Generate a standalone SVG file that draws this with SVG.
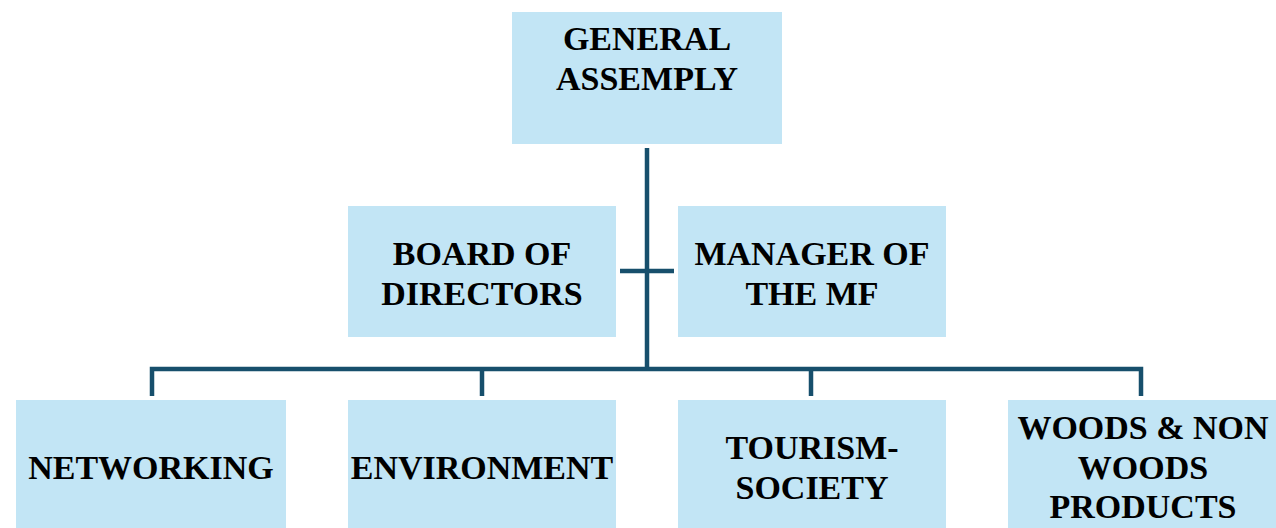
<svg xmlns="http://www.w3.org/2000/svg" width="1276" height="528" viewBox="0 0 1276 528">
<style>
.box{fill:#C2E5F5}
.t{font-family:"Liberation Serif","Times New Roman",serif;font-weight:bold;font-size:34px;fill:#000;text-anchor:middle}
.ln{stroke:#174F6C;stroke-width:4.5;fill:none}
</style>
<rect width="1276" height="528" fill="#fff"/>
<g id="connectors">
<line class="ln" x1="647" y1="148" x2="647" y2="370"/>
<line class="ln" x1="620" y1="271" x2="674" y2="271"/>
<polyline class="ln" points="152,396 152,369 1141,369 1141,396"/>
<line class="ln" x1="482" y1="369" x2="482" y2="396"/>
<line class="ln" x1="811" y1="369" x2="811" y2="396"/>
</g>
<g id="general-assembly">
<rect class="box" x="512" y="12" width="270" height="132"/>
<text class="t" x="647" y="50">GENERAL</text>
<text class="t" x="647" y="90">ASSEMPLY</text>
</g>
<g id="board-of-directors">
<rect class="box" x="348" y="206" width="268" height="131"/>
<text class="t" x="482" y="265">BOARD OF</text>
<text class="t" x="482" y="305">DIRECTORS</text>
</g>
<g id="manager">
<rect class="box" x="678" y="206" width="268" height="131"/>
<text class="t" x="812" y="265">MANAGER OF</text>
<text class="t" x="812" y="305">THE MF</text>
</g>
<g id="networking">
<rect class="box" x="16" y="400" width="270" height="128"/>
<text class="t" x="151" y="479">NETWORKING</text>
</g>
<g id="environment">
<rect class="box" x="348" y="400" width="268" height="128"/>
<text class="t" x="482" y="479">ENVIRONMENT</text>
</g>
<g id="tourism-society">
<rect class="box" x="678" y="400" width="268" height="128"/>
<text class="t" x="812" y="459">TOURISM-</text>
<text class="t" x="812" y="499">SOCIETY</text>
</g>
<g id="woods">
<rect class="box" x="1008" y="400" width="268" height="128"/>
<text class="t" x="1143" y="439">WOODS &amp; NON</text>
<text class="t" x="1143" y="479">WOODS</text>
<text class="t" x="1143" y="518">PRODUCTS</text>
</g>
</svg>
